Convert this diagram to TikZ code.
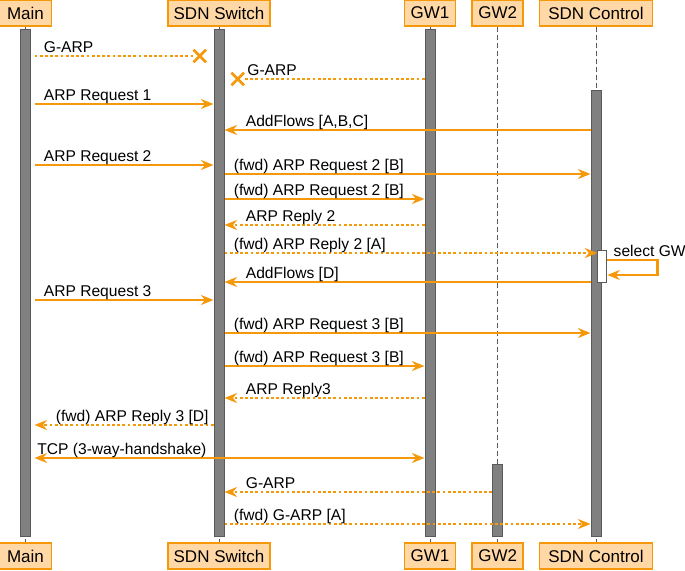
\documentclass[tikz,border=0pt]{standalone}
\usepackage{fontspec}
\setmainfont{Liberation Sans}
\usetikzlibrary{arrows.meta,shapes.misc}

\definecolor{msgorange}{RGB}{245,152,10}
\definecolor{headfill}{RGB}{255,216,166}
\definecolor{bargray}{RGB}{128,128,128}
\definecolor{bardark}{RGB}{90,90,90}

\begin{document}
\begin{tikzpicture}[x=1pt, y=-1pt, font=\fontsize{15.6}{18}\selectfont,
    >={Stealth[length=12.5pt,width=10pt,inset=4pt]}]
    \useasboundingbox (0,0) rectangle (685,570);

    \tikzset{%
      apply style/.code = {\tikzset{#1}},
      head/.style       = {draw=msgorange, fill=headfill, line width=1.5pt,
                           minimum height=26pt, inner sep=0pt,
                           font=\fontsize{17}{20}\selectfont},
      lifeline/.style   = {draw=bardark, line width=1pt, dash pattern=on 5pt off 3pt},
      bar/.style        = {draw=bardark, fill=bargray, line width=1pt,
                           minimum width=10pt, inner sep=0pt},
      callmsg/.style    = {draw=msgorange, line width=2.8pt, ->},
      replymsg/.style   = {callmsg, dash pattern=on 2.8pt off 2.4pt},
      lostmsg/.style    = {replymsg, -},
      bothmsg/.style    = {callmsg, <->},
      lostmark/.style   = {cross out, draw=msgorange, line width=2.6pt,
                           minimum size=10pt, inner sep=0pt},
      msglabel/.style   = {anchor=base west, yshift=4pt, inner sep=0pt, text=black}
    }

    % participants, top and bottom
    \foreach \name/\x/\w/\txt in {%
        main/25.5/52/Main,
        sw/219/102/SDN Switch,
        gw1/430/51/GW1,
        gw2/497.7/51/GW2,
        ctl/596/113/SDN Control%
    }{
      \node[head, minimum width=\w] (\name-top) at (\x,13)  {\txt};
      \node[head, minimum width=\w] (\name-bot) at (\x,556) {\txt};
      \draw[lifeline] (\name-top) -- (\name-bot);
    }

    % activation bars
    \foreach \name/\top/\barstyle in {%
        main/30/{outer xsep=4pt},
          sw/30/{},
         gw1/30/{},
         gw2/465/{},
         ctl/91/{}%
    }{
      \pgfmathsetmacro{\h}{537-\top}
      \node[bar, minimum height=\h, anchor=south, apply style/.expand once=\barstyle]
        (\name-bar) at (\name-top |- 0,537) {};
    }
    \node[bar, fill=white, minimum width=9pt, minimum height=32pt] (ctl-act) at (602.3,266) {};

    % lost messages
    \node[lostmark] (lost1) at (199.7,56) {};
    \node[lostmark] (lost2) at (237.7,79) {};

    \foreach \y/\from/\to/\kind/\at/\dx/\txt in {%
       56/main-bar.east/lost1.west/lostmsg/0/8/G-ARP,
       79/gw1-bar.west/lost2.east/lostmsg/1/2/G-ARP,
      104/main-bar.east/sw-bar.west/callmsg/0/8/ARP Request 1,
      130/ctl-bar.west/sw-bar.east/callmsg/1/20/{AddFlows [A,B,C]},
      165/main-bar.east/sw-bar.west/callmsg/0/8/ARP Request 2,
      174/sw-bar.east/ctl-bar.west/callmsg/0/8/{(fwd) ARP Request 2 [B]},
      199/sw-bar.east/gw1-bar.west/callmsg/0/8/{(fwd) ARP Request 2 [B]},
      225/gw1-bar.west/sw-bar.east/replymsg/1/20/ARP Reply 2,
      253/sw-bar.east/ctl-act.west/replymsg/0/8/{(fwd) ARP Reply 2 [A]},
      282/ctl-bar.west/sw-bar.east/callmsg/1/20/{AddFlows [D]},
      300/main-bar.east/sw-bar.west/callmsg/0/8/ARP Request 3,
      333/sw-bar.east/ctl-bar.west/callmsg/0/8/{(fwd) ARP Request 3 [B]},
      366/sw-bar.east/gw1-bar.west/callmsg/0/8/{(fwd) ARP Request 3 [B]},
      398/gw1-bar.west/sw-bar.east/replymsg/1/20/ARP Reply3,
      425/sw-bar.west/main-bar.east/replymsg/1/20/{(fwd) ARP Reply 3 [D]},
      458/main-bar.east/gw1-bar.west/bothmsg/0/1.5/{TCP (3-way-handshake)},
      492/gw2-bar.west/sw-bar.east/replymsg/1/20/G-ARP,
      524/sw-bar.east/ctl-bar.west/replymsg/0/8/{(fwd) G-ARP [A]}%
    }{
      \draw[apply style/.expand once=\kind] (\from |- 0,\y) -- (\to |- 0,\y)
        node[msglabel, pos=\at, xshift=\dx] (lab\y) {\txt};
    }

    % self call at the controller
    \draw[callmsg] (ctl-act.east |- 0,260)
        node[msglabel, xshift=5pt] (labsel) {select GW}
      -- ++(50,0) -- ++(0,15) -- (ctl-act.east |- 0,275);
\end{tikzpicture}
\end{document}
